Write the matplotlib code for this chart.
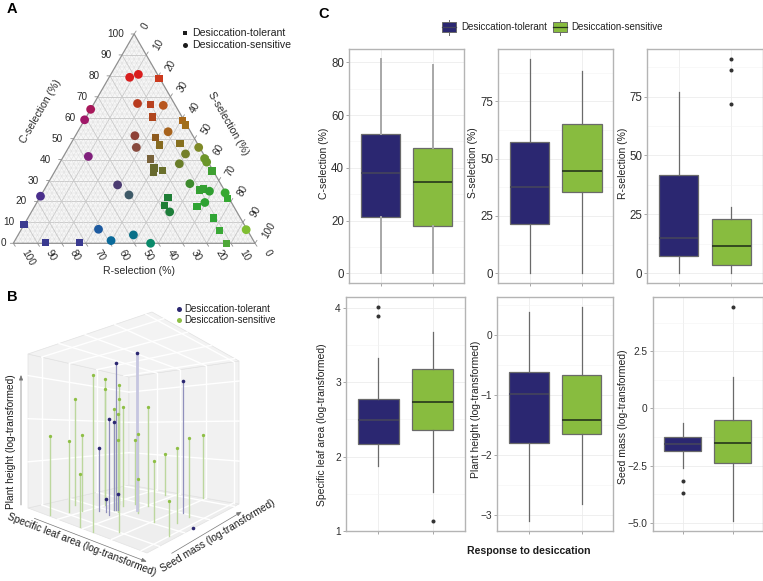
import matplotlib
matplotlib.use("Agg")
import matplotlib.pyplot as plt
from matplotlib.patches import Rectangle, Polygon
from matplotlib.ticker import MultipleLocator

plt.rcParams['font.family'] = ['Liberation Sans', 'DejaVu Sans']

W, H = 763, 581
NAVY = "#2b2771"
GREEN = "#88bc3f"

# ----------------------------
# Panel A data (%)
# ----------------------------
sens_C = [79.3, 80.7, 66.8, 65.9, 64.0, 59.0, 53.3, 51.4, 45.8, 41.5, 45.8, 42.7, 40.5, 38.8,
          38.0, 27.9, 23.1, 28.5, 24.9, 24.1, 19.5, 15.0, 22.5, 6.7, 1.3, 4.0, 0.0, 6.5]
sens_S = [8.5, 11.4, 18.0, 29.1, 0.0, 0.0, 37.4, 24.6, 28.0, 10.3, 53.8, 49.9, 58.9, 60.6,
          49.7, 29.2, 36.3, 58.8, 68.7, 75.6, 69.5, 57.2, 0.0, 31.9, 39.8, 47.7, 56.8, 93.1]
sens_col = ["#d81e1e", "#d91e1e", "#b83a1e", "#b8561e", "#a8185a", "#a01868", "#a8641e",
            "#8e4238", "#884a3e", "#80207c", "#7f8a28", "#74802a", "#6f962a", "#6a962a",
            "#6a7e2a", "#4c3c72", "#3e5a68", "#3e8a2e", "#2f9e30", "#38a832", "#2ea332",
            "#1d7e3a", "#4a2f8c", "#1d5aa0", "#0a6a9a", "#0a7088", "#0a8a6a", "#80be32"]

tol_C = [78.6, 66.2, 60.4, 58.7, 56.5, 50.4, 47.0, 47.8, 40.2, 35.9, 34.0, 34.9, 34.6,
         25.5, 26.0, 21.5, 22.0, 18.0, 17.5, 12.1, 6.0, 0.0, 8.9, 0.3, 0.5]
tol_S = [21.0, 23.7, 27.5, 40.7, 43.1, 33.6, 36.9, 45.1, 36.7, 40.2, 41.1, 44.3, 64.9,
         64.4, 65.6, 78.0, 53.0, 53.6, 67.2, 76.8, 82.2, 88.1, 0.0, 13.2, 27.1]
tol_col = ["#cc3a1e", "#b8401e", "#b0461e", "#a8681a", "#a06e1a", "#8e5a1e", "#866a20",
           "#867020", "#78623a", "#686a2e", "#686a2e", "#6a702c", "#3fa032", "#35a033",
           "#35a033", "#35a832", "#1f7e36", "#1f7e36", "#2fa333", "#30a535", "#3aa836",
           "#4ea838", "#3a3a90", "#3a3a90", "#3a3a90"]

# ----------------------------
# Panel B data (scaled 0-1 on each axis)
# ----------------------------
b_sens_sla = [.17, .194, .121, .236, .428, .536, .165, .245, .304, .658, .359, .404, .35, .375,
              .382, .485, .516, .469, .71, .394, .948, .849, .841, .67]
b_sens_seed = [.02, .18, .326, .262, .015, .01, .578, .487, .556, .135, .446, .43, .547, .464,
               .635, .54, .509, .661, .442, .928, .303, .517, .649, 1.0]
b_sens_height = [.473, .438, .717, .479, .279, .786, .885, .786, .82, .664, .641, .607, .661, .448,
                 .442, .484, .21, .664, .337, .321, .17, .412, .464, .475]
b_tol_sla = [.473, .368, .76, .408, .358, .307, .347, .374, 1.0]
b_tol_seed = [.546, .455, .683, .337, .444, .353, .374, .462, .504]
b_tol_height = [1.0, .94, .818, .577, .562, .398, .079, .10, 0.0]

# ----------------------------
# Panel C data: [tolerant, sensitive]
# ----------------------------
box_names = ["C-selection (%)", "S-selection (%)", "R-selection (%)",
             "Specific leaf area (log-transformed)", "Plant height (log-transformed)",
             "Seed mass (log-transformed)"]
box_q1 = [[21.2, 17.9], [21.5, 35.3], [7.4, 3.4], [2.17, 2.361], [-1.803, -1.647], [-1.879, -2.40]]
box_med = [[38.2, 34.8], [37.6, 44.6], [14.9, 11.6], [2.487, 2.728], [-.974, -1.408], [-1.544, -1.53]]
box_q3 = [[52.7, 47.6], [57.1, 65.0], [41.6, 23.2], [2.77, 3.172], [-.607, -.662], [-1.267, -.524]]
box_lo = [[0, 0], [0, 0], [0, 0], [1.873, 1.53], [-3.095, -2.81], [-2.59, -4.92]]
box_hi = [[81.1, 78.9], [93.3, 88.2], [77.1, 28.0], [3.33, 3.68], [.39, .473], [-.64, 1.37]]
box_fliers = [[[], []], [[], []], [[], [72.0, 86.2, 90.8]], [[3.888, 4.01], [1.134]], [[], []],
              [[-3.16, -3.71], [4.43]]]
box_ylims = [(-3.8, 85.05), (-4.36, 97.8), (-4.25, 95.2), (1.0, 4.148), (-3.267, .646), (-5.36, 4.88)]
box_ticks = [[0, 20, 40, 60, 80], [0, 25, 50, 75], [0, 25, 50, 75], [1, 2, 3, 4], [-3, -2, -1, 0],
             [-5.0, -2.5, 0.0, 2.5]]
box_ticklabels = [["0", "20", "40", "60", "80"], ["0", "25", "50", "75"], ["0", "25", "50", "75"],
                  ["1", "2", "3", "4"], ["\u22123", "\u22122", "\u22121", "0"],
                  ["\u22125.0", "\u22122.5", "0", "2.5"]]
box_minor = [10, 12.5, 12.5, .5, .5, 1.25]
box_extent = [(349.3, 49, 464, 283.3), (498.3, 49, 613.3, 283.3), (647.3, 49, 762.7, 283.3),
              (346, 296.7, 465, 531), (497.3, 296.7, 613.3, 531), (652.7, 296.7, 762.7, 531)]
box_label_xy = [(324.3, 163), (473.3, 163), (622.7, 163), (322.3, 425), (475.7, 409), (623.3, 416.7)]


def panel_axes(x0, y0, x1, y1):
    return fig.add_axes([x0 / W, 1 - y1 / H, (x1 - x0) / W, (y1 - y0) / H])


fig = plt.figure(figsize=(W / 100, H / 100), dpi=100, facecolor="white")

# overlay in pixel coordinates for letters and legends
ov = fig.add_axes([0, 0, 1, 1], zorder=5)
ov.set_xlim(0, W)
ov.set_ylim(H, 0)
ov.axis("off")
ov.patch.set_alpha(0)

# ----------------------------
# Panel A: ternary
# ----------------------------
ax_a = panel_axes(13.3, 34, 255, 243.3)
ax_a.set_xlim(0, 1)
ax_a.set_ylim(0, 1)
ax_a.axis("off")


def tern(c, s):
    return (s + c / 2) / 100, c / 100


ax_a.add_patch(Polygon([tern(0, 0), tern(0, 100), tern(100, 0)], closed=True, facecolor="#f7f7f7",
                       edgecolor="none", zorder=0))
for v in range(2, 100, 2):
    major = v % 10 == 0
    col = "#c9c9c9" if major else "#dedede"
    lw = 0.65 if major else 0.35
    for a, b in [(tern(v, 0), tern(v, 100 - v)), (tern(0, v), tern(100 - v, v)),
                 (tern(0, 100 - v), tern(100 - v, 0))]:
        ax_a.plot([a[0], b[0]], [a[1], b[1]], color=col, lw=lw, zorder=1, solid_capstyle="butt")

ax_a.add_patch(Polygon([tern(0, 0), tern(0, 100), tern(100, 0)], closed=True, fill=False,
                       edgecolor="#909090", lw=0.9, zorder=2, clip_on=False))

tick_txt = dict(fontsize=7.2, color="#2a2a2a", rotation_mode="anchor")
for v in range(0, 101, 10):
    # C axis, left edge
    xy = tern(v, 0)
    ax_a.annotate("", xy=xy, xytext=(-3, 0), textcoords="offset pixels", annotation_clip=False,
                  arrowprops=dict(arrowstyle="-", color="#909090", lw=0.6, shrinkA=0, shrinkB=0))
    ax_a.annotate(str(v), xy=xy, xytext=(-10.5 if v > 0 else -7.5, 0), textcoords="offset pixels",
                  ha="right", va="center", annotation_clip=False, **tick_txt)
    # S axis, right edge
    xy = tern(100 - v, v)
    ax_a.annotate("", xy=xy, xytext=(2, 3), textcoords="offset pixels", annotation_clip=False,
                  arrowprops=dict(arrowstyle="-", color="#909090", lw=0.6, shrinkA=0, shrinkB=0))
    ax_a.annotate(str(v), xy=xy, xytext=(9.5, 5.5), textcoords="offset pixels", ha="left",
                  va="center", rotation=60, annotation_clip=False, **tick_txt)
    # R axis, bottom edge
    xy = tern(0, 100 - v)
    ax_a.annotate("", xy=xy, xytext=(2, -3), textcoords="offset pixels", annotation_clip=False,
                  arrowprops=dict(arrowstyle="-", color="#909090", lw=0.6, shrinkA=0, shrinkB=0))
    ax_a.annotate(str(v), xy=xy, xytext=(11, -7), textcoords="offset pixels", ha="left",
                  va="center", rotation=-60, annotation_clip=False, **tick_txt)

sx, sy = zip(*[tern(c, s) for c, s in zip(sens_C, sens_S)])
tx, ty = zip(*[tern(c, s) for c, s in zip(tol_C, tol_S)])
ax_a.scatter(tx, ty, marker="s", s=28, c=tol_col, linewidths=0, zorder=3, clip_on=False)
ax_a.scatter(sx, sy, marker="o", s=40, c=sens_col, linewidths=0, zorder=4, clip_on=False)

label_kw = dict(fontsize=7.6, color="#2a2a2a", ha="center", va="center")
ov.text(40.7, 111.7, "C-selection (%)", rotation=60, **label_kw)
ov.text(228.3, 123.3, "S-selection (%)", rotation=-60, **label_kw)
ov.text(139.3, 271, "R-selection (%)", **label_kw)

ov.scatter([185.3], [33.3], marker="s", s=11, color="#1c1c1c", linewidths=0)
ov.scatter([185.3], [44.7], marker="o", s=13, color="#1c1c1c", linewidths=0)
ov.text(191.7, 33.5, "Desiccation-tolerant", fontsize=7.6, color="#222222", va="center")
ov.text(191.7, 45, "Desiccation-sensitive", fontsize=7.6, color="#222222", va="center")

# ----------------------------
# Panel B: 3D stems, own perspective
# ----------------------------
ax_b = panel_axes(0, 285, 300, 581)
ax_b.set_xlim(0, 300)
ax_b.set_ylim(581, 285)
ax_b.axis("off")


def project(sla, seed, height):
    x = 28 + 119 * sla + 101 * seed - 9 * sla * seed + 5 * sla * (1 - seed) * height
    y = 508 + 45 * sla - 23 * seed - 26 * sla * seed
    y -= height * (154 + 87 * sla - 46 * seed - 52 * sla * seed)
    return x, y


def face(a, b, c, d, color):
    ax_b.add_patch(Polygon([project(*a), project(*b), project(*c), project(*d)], closed=True,
                           facecolor=color, edgecolor="#e2e2e2", lw=0.5, zorder=1))


face((0, 0, 0), (1, 0, 0), (1, 1, 0), (0, 1, 0), "#eeeeee")
face((0, 0, 0), (0, 1, 0), (0, 1, 1), (0, 0, 1), "#f1f1f1")
face((0, 1, 0), (1, 1, 0), (1, 1, 1), (0, 1, 1), "#f1f1f1")
face((0, 0, 1), (1, 0, 1), (1, 1, 1), (0, 1, 1), "#f3f3f3")


def white_line(a, b):
    p, q = project(*a), project(*b)
    ax_b.plot([p[0], q[0]], [p[1], q[1]], color="white", lw=1.0, zorder=2)


sla_grid = [.25, .46, .70, .95]
seed_grid = [.135, .41, .68, .95]
height_grid = [.30, .58, .86]
for level in (0, 1):
    for g in sla_grid:
        white_line((g, 0, level), (g, 1, level))
    for g in seed_grid:
        white_line((0, g, level), (1, g, level))
for g in seed_grid[:3]:
    white_line((0, g, 0), (0, g, 1))
for g in sla_grid:
    white_line((g, 1, 0), (g, 1, 1))
for g in height_grid:
    white_line((0, 0, g), (0, 1, g))
    white_line((0, 1, g), (1, 1, g))

for s, e, h in zip(b_sens_sla, b_sens_seed, b_sens_height):
    p, q = project(s, e, 0), project(s, e, h)
    ax_b.plot([p[0], p[0]], [p[1], q[1]], color="#bcd79e", lw=1.0, zorder=3)
    ax_b.plot([p[0]], [q[1]], "o", ms=2.4, color="#8ebf45", mew=0, zorder=4)
for s, e, h in zip(b_tol_sla, b_tol_seed, b_tol_height):
    p, q = project(s, e, 0), project(s, e, h)
    stem_w = 2.0 if h == 1.0 else 0.9
    stem_c = "#c6c6e0" if h == 1.0 else "#9090bc"
    if h > 0:
        ax_b.plot([p[0], p[0]], [p[1], q[1]], color=stem_c, lw=stem_w, zorder=3)
    ax_b.plot([p[0]], [q[1]], "o", ms=2.6, color=NAVY, mew=0, zorder=5)

arrow = dict(arrowstyle="-|>,head_width=0.12,head_length=0.3", color="#777777", lw=0.5,
             shrinkA=0, shrinkB=0)
ax_b.annotate("", xy=(21, 375), xytext=(21, 505), arrowprops=arrow)
ax_b.annotate("", xy=(146.7, 561.7), xytext=(34.3, 518.3), arrowprops=arrow)
ax_b.annotate("", xy=(241.7, 511.7), xytext=(171.7, 553.3), arrowprops=arrow)

b_kw = dict(fontsize=7.3, color="#1c1c1c", ha="center", va="center", rotation_mode="anchor")
ov.text(10.7, 441.7, "Plant height (log-transformed)", rotation=90, **b_kw)
ov.text(81.7, 545, "Specific leaf area (log-transformed)", rotation=-21, **b_kw)
ov.text(218, 536, "Seed mass (log-transformed)", rotation=31, **b_kw)

ov.scatter([179], [309], s=13, color=NAVY, linewidths=0)
ov.scatter([179], [320], s=13, color="#8ebf45", linewidths=0)
ov.text(184.3, 309, "Desiccation-tolerant", fontsize=7, color="#222222", va="center")
ov.text(184.3, 320, "Desiccation-sensitive", fontsize=7, color="#222222", va="center")

# ----------------------------
# Panel C: boxplots
# ----------------------------
for i in range(6):
    ax = panel_axes(*box_extent[i])
    stats = [dict(med=box_med[i][k], q1=box_q1[i][k], q3=box_q3[i][k], whislo=box_lo[i][k],
                  whishi=box_hi[i][k], fliers=box_fliers[i][k]) for k in range(2)]
    whisk_c = "#a8a8a8" if i == 0 else "#6a6a6a"
    whisk_w = 1.4 if i == 0 else 0.9
    bp = ax.bxp(stats, positions=[1, 2], widths=0.75, patch_artist=True, showcaps=False,
                boxprops=dict(edgecolor="#6a6a6a", lw=0.9),
                whiskerprops=dict(color=whisk_c, lw=whisk_w),
                flierprops=dict(marker="o", ms=2.9, mfc="#333333", mec="#333333", mew=0),
                medianprops=dict(color="#333333", lw=1.2), zorder=3)
    bp["boxes"][0].set_facecolor(NAVY)
    bp["boxes"][1].set_facecolor(GREEN)
    bp["medians"][1].set_color("#25361a")
    bp["medians"][0].set_color("#45455c")
    ax.set_xlim(0.4, 2.6)
    ax.set_ylim(*box_ylims[i])
    ax.set_xticks([1, 2])
    ax.set_xticklabels([])
    ax.set_yticks(box_ticks[i])
    ax.set_yticklabels(box_ticklabels[i])
    ax.yaxis.set_minor_locator(MultipleLocator(box_minor[i]))
    ax.set_axisbelow(True)
    ax.grid(True, which="major", color="#ececec", lw=0.6)
    ax.grid(True, which="minor", axis="y", color="#f4f4f4", lw=0.4)
    ax.tick_params(which="major", length=2.2, width=0.6, color="#999999", labelcolor="#2e2e2e",
                   labelsize=8.3 if i < 3 else 7.3, pad=1.5)
    ax.tick_params(which="minor", length=0)
    for sp in ax.spines.values():
        sp.set_color("#b4b4b4")
        sp.set_linewidth(1.0)
    ax.set_ylabel(box_names[i], fontsize=7.5, color="#222222")
    ax.yaxis.label.set_va("center")
    ax.yaxis.set_label_coords(*box_label_xy[i], transform=ov.transData)

# legend of panel C
for kx, kcol, mcol in [(441.7, NAVY, "#45455c"), (552.7, GREEN, "#25361a")]:
    ov.plot([kx + 7.2, kx + 7.2], [20, 34.5], color="#6a6a6a", lw=0.7, zorder=1)
    ov.add_patch(Rectangle((kx, 22), 14.4, 10.3, facecolor=kcol, edgecolor="#6a6a6a", lw=0.7, zorder=2))
    ov.plot([kx, kx + 14.4], [27.2, 27.2], color=mcol, lw=0.9, zorder=3)
ov.text(461, 27.5, "Desiccation-tolerant", fontsize=7, color="#222222", va="center")
ov.text(571.7, 27.5, "Desiccation-sensitive", fontsize=7, color="#222222", va="center")

ov.text(528.7, 550.5, "Response to desiccation", fontsize=7.6, fontweight="bold", color="#1c1c1c",
        ha="center", va="center")

# letras de panel
ov.text(7, 9, "A", fontsize=10.5, fontweight="bold", ha="left", va="center")
ov.text(7, 297, "B", fontsize=10.5, fontweight="bold", ha="left", va="center")
ov.text(318, 14, "C", fontsize=10.5, fontweight="bold", ha="left", va="center")

fig.savefig("out.png", dpi=100)
